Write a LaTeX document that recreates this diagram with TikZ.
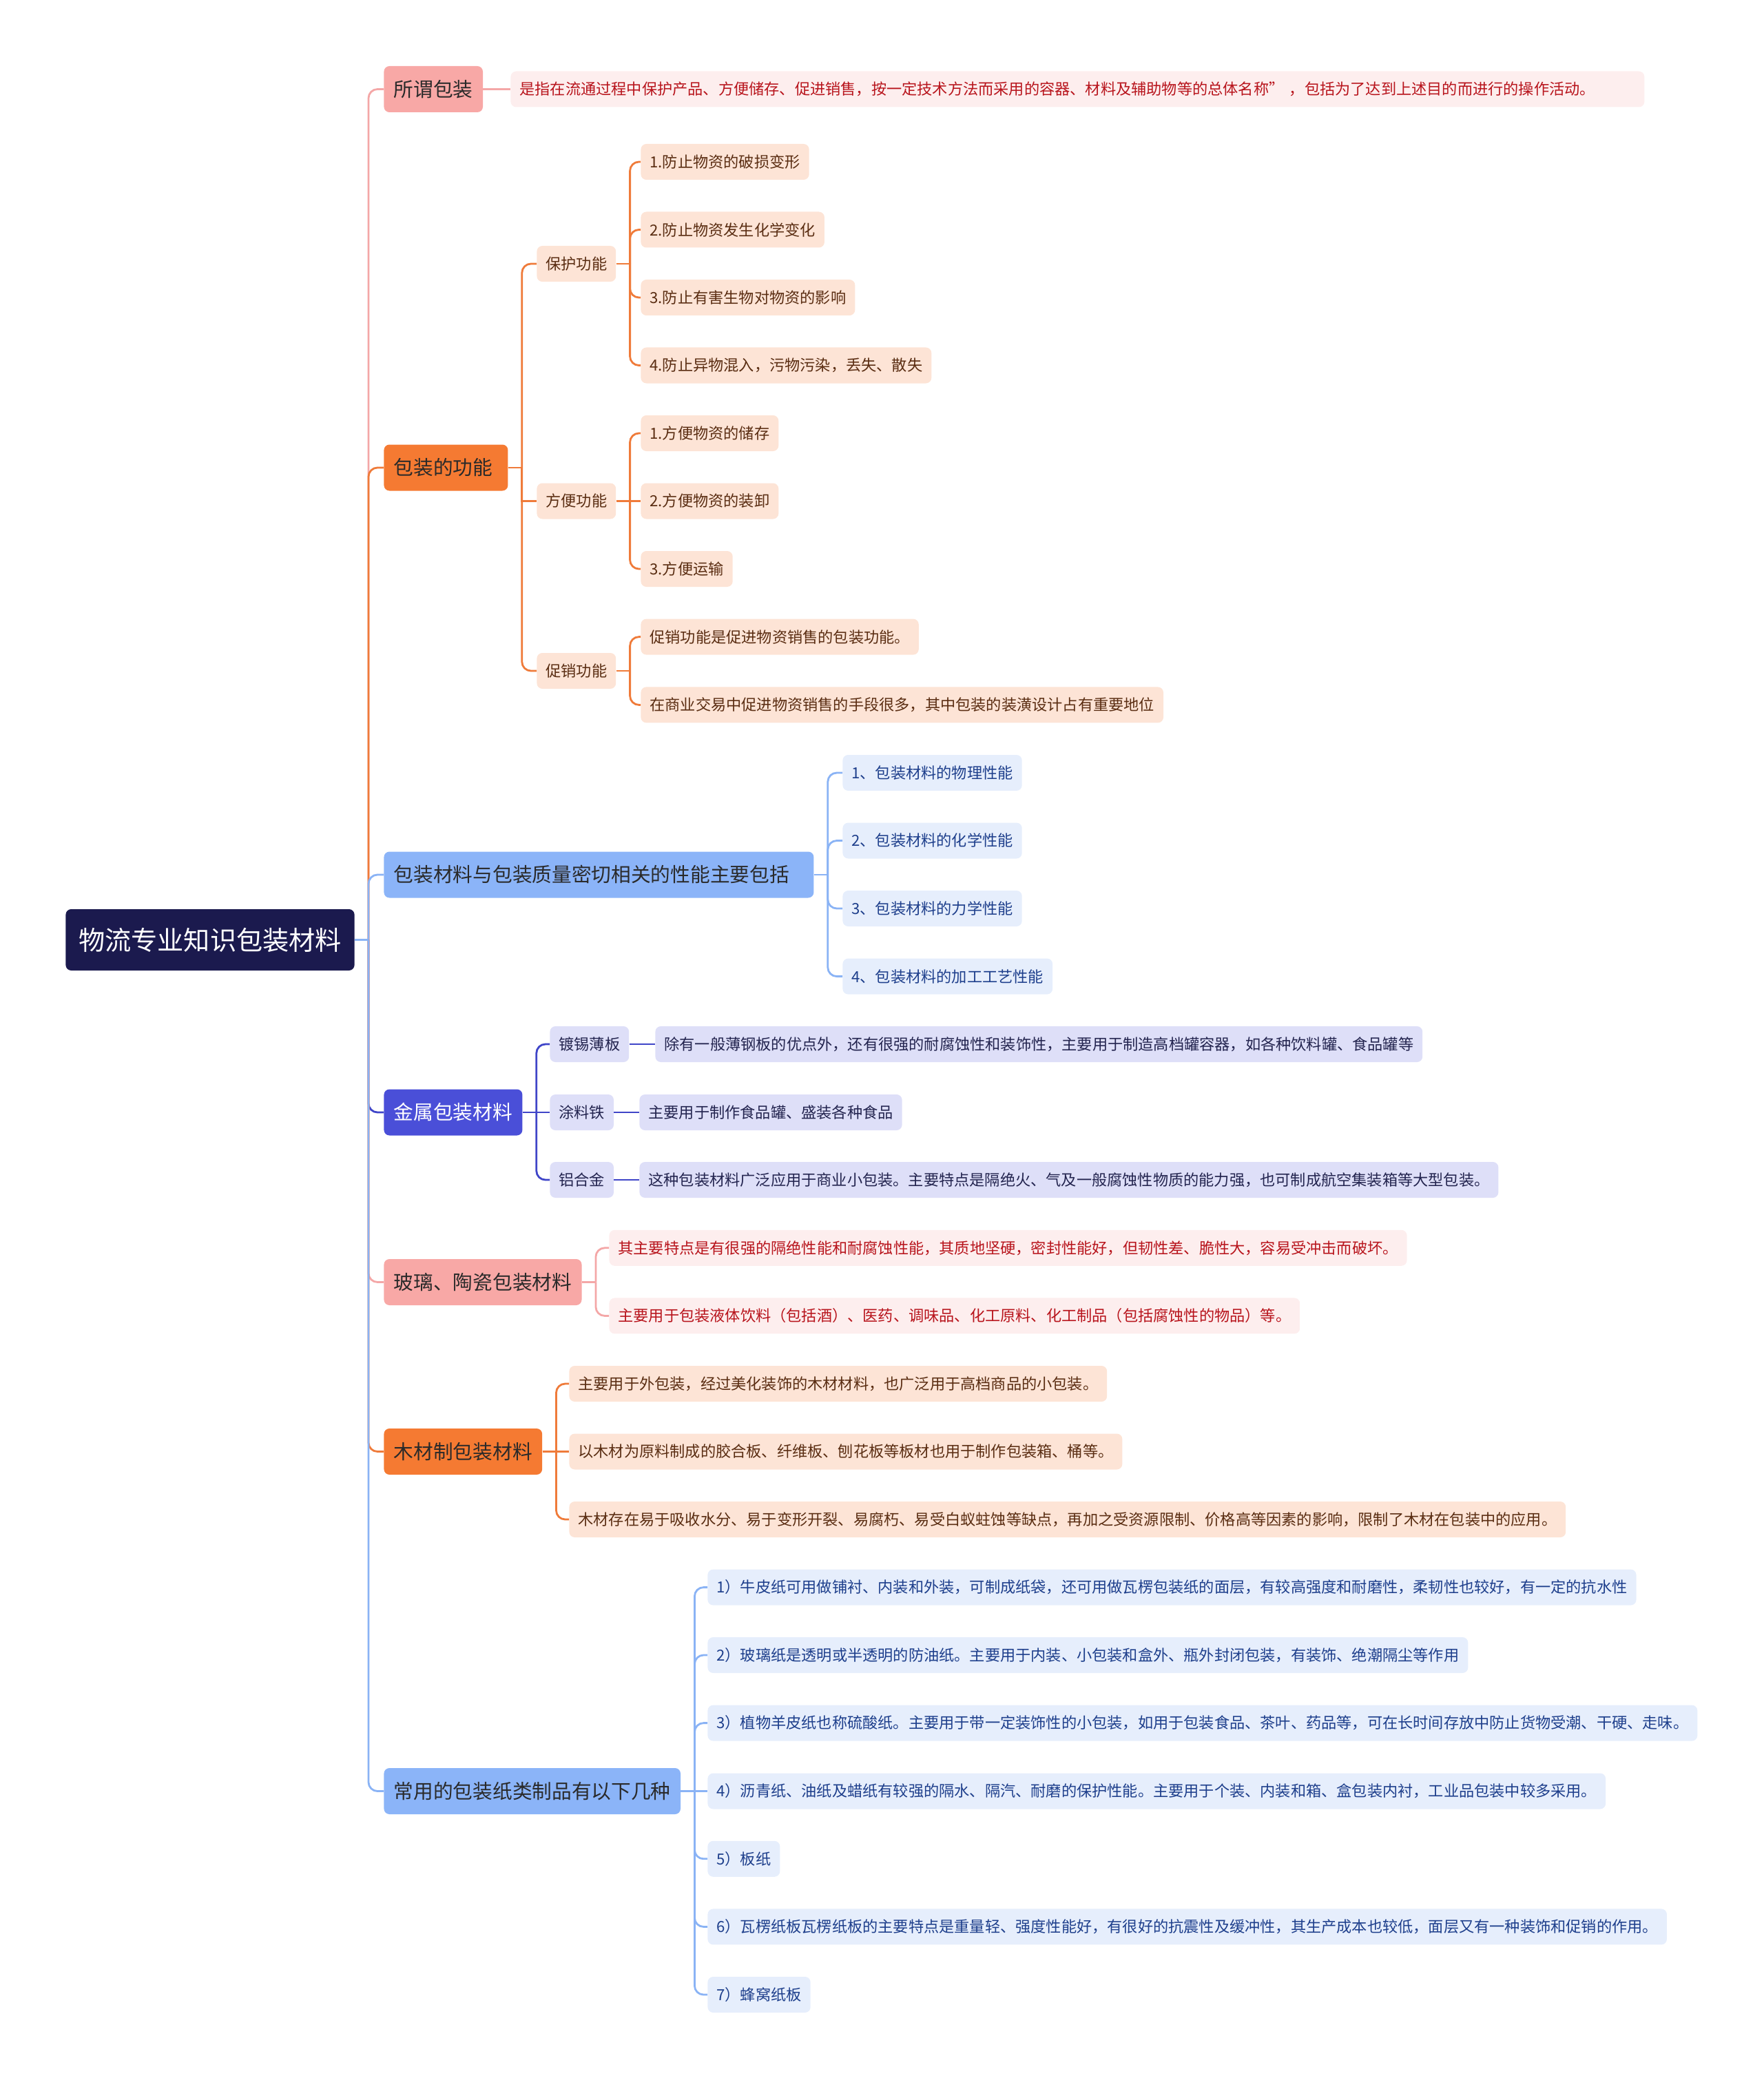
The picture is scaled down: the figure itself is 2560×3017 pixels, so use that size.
\documentclass[tikz,border=0pt]{standalone}
\usepackage{fontspec}
\setmainfont{Noto Sans CJK SC}
\usepackage{xcolor}
\usepackage{tikz}
\usetikzlibrary{positioning}
\definecolor{rootfill}{HTML}{1B1A4E}
\definecolor{toptext}{HTML}{2A2A2A}
\definecolor{pinkfill}{HTML}{F8A8A6}
\definecolor{pinkleaffill}{HTML}{FDEEEE}
\definecolor{pinktext}{HTML}{B8141C}
\definecolor{pinkline}{HTML}{F4A7A7}
\definecolor{orangefill}{HTML}{F57A32}
\definecolor{peachfill}{HTML}{FDE4D6}
\definecolor{peachtext}{HTML}{5A2D12}
\definecolor{orangeline}{HTML}{EF7B3A}
\definecolor{bluefill}{HTML}{8BB4F8}
\definecolor{blueleaffill}{HTML}{E6EEFC}
\definecolor{bluetext}{HTML}{1E3F8C}
\definecolor{blueline}{HTML}{8AB3F5}
\definecolor{indfill}{HTML}{4A4FD8}
\definecolor{indleaffill}{HTML}{DEDFF8}
\definecolor{indtext}{HTML}{23244F}
\definecolor{indline}{HTML}{3F45C8}

% elbow from parent to child
\newcommand{\fork}[3]{%
  \draw[link,#3] (#1.east) -- ++(20,0) coordinate (fk);
  \draw[link,#3,rounded corners=6.5pt] (fk) |- (#2.west);}

\begin{document}
\begin{tikzpicture}[x=0.5pt,y=-0.5pt,
  box/.style={anchor=west,rounded corners=4pt,inner ysep=0pt},
  rootbox/.style={box,fill=rootfill,text=white,minimum height=44.5pt,inner xsep=9.3pt,font=\fontsize{19.1pt}{22pt}\selectfont},
  topbox/.style={box,text=toptext,minimum height=33.5pt,inner xsep=7.2pt,font=\fontsize{14.35pt}{17pt}\selectfont},
  leafbox/.style={box,minimum height=26pt,inner xsep=6.5pt,font=\fontsize{11.1pt}{13pt}\selectfont},
  pinkleaf/.style={leafbox,fill=pinkleaffill,text=pinktext},
  peachleaf/.style={leafbox,fill=peachfill,text=peachtext},
  blueleaf/.style={leafbox,fill=blueleaffill,text=bluetext},
  indleaf/.style={leafbox,fill=indleaffill,text=indtext},
  link/.style={line width=1.4pt}]
\useasboundingbox (0,0) rectangle (2560,3017);

\node[rootbox] (root) at (95,1364.5) {物流专业知识包装材料};

% 所谓包装
\node[topbox,fill=pinkfill] (sw) at (557,129.5) {所谓包装};
\node[pinkleaf,text width=810pt,align=left] (swd) at (741,129.5) {是指在流通过程中保护产品、方便储存、促进销售，按一定技术方法而采用的容器、材料及辅助物等的总体名称” ，包括为了达到上述目的而进行的操作活动。};

% 包装的功能
\node[topbox,fill=orangefill,text width=75.6pt,align=left] (gn) at (557,679) {包装的功能};
\node[peachleaf] (bh) at (779,383) {保护功能};
\node[peachleaf] (fb) at (779,727.5) {方便功能};
\node[peachleaf] (cx) at (779,974) {促销功能};
\node[peachleaf] (bh1) at (930,235) {1.防止物资的破损变形};
\node[peachleaf] (bh2) at (930,333.5) {2.防止物资发生化学变化};
\node[peachleaf] (bh3) at (930,432) {3.防止有害生物对物资的影响};
\node[peachleaf] (bh4) at (930,530.5) {4.防止异物混入，污物污染，丢失、散失};
\node[peachleaf] (fb1) at (930,629) {1.方便物资的储存};
\node[peachleaf] (fb2) at (930,727.5) {2.方便物资的装卸};
\node[peachleaf] (fb3) at (930,826) {3.方便运输};
\node[peachleaf] (cx1) at (930,924.6) {促销功能是促进物资销售的包装功能。};
\node[peachleaf] (cx2) at (930,1023.4) {在商业交易中促进物资销售的手段很多，其中包装的装潢设计占有重要地位};

% 性能
\node[topbox,fill=bluefill,text width=297.6pt,align=left] (cl) at (557,1270) {包装材料与包装质量密切相关的性能主要包括};
\node[blueleaf] (cl1) at (1223,1122) {1、包装材料的物理性能};
\node[blueleaf] (cl2) at (1223,1220.5) {2、包装材料的化学性能};
\node[blueleaf] (cl3) at (1223,1319) {3、包装材料的力学性能};
\node[blueleaf] (cl4) at (1223,1417.6) {4、包装材料的加工工艺性能};

% 金属包装材料
\node[topbox,fill=indfill,text=white] (js) at (557,1615) {金属包装材料};
\node[indleaf] (dx) at (798,1516) {镀锡薄板};
\node[indleaf] (tl) at (798,1615) {涂料铁};
\node[indleaf] (lh) at (798,1713) {铝合金};
\node[indleaf] (dx1) at (951,1516) {除有一般薄钢板的优点外，还有很强的耐腐蚀性和装饰性，主要用于制造高档罐容器，如各种饮料罐、食品罐等};
\node[indleaf] (tl1) at (928,1615) {主要用于制作食品罐、盛装各种食品};
\node[indleaf] (lh1) at (928,1713) {这种包装材料广泛应用于商业小包装。主要特点是隔绝火、气及一般腐蚀性物质的能力强，也可制成航空集装箱等大型包装。};

% 玻璃、陶瓷
\node[topbox,fill=pinkfill] (bl) at (557,1861.5) {玻璃、陶瓷包装材料};
\node[pinkleaf] (bl1) at (884,1811.8) {其主要特点是有很强的隔绝性能和耐腐蚀性能，其质地坚硬，密封性能好，但韧性差、脆性大，容易受冲击而破坏。};
\node[pinkleaf] (bl2) at (884,1910.4) {主要用于包装液体饮料（包括酒）、医药、调味品、化工原料、化工制品（包括腐蚀性的物品）等。};

% 木材
\node[topbox,fill=orangefill] (mc) at (557,2107.5) {木材制包装材料};
\node[peachleaf] (mc1) at (826,2009) {主要用于外包装，经过美化装饰的木材材料，也广泛用于高档商品的小包装。};
\node[peachleaf] (mc2) at (826,2107.5) {以木材为原料制成的胶合板、纤维板、刨花板等板材也用于制作包装箱、桶等。};
\node[peachleaf] (mc3) at (826,2206) {木材存在易于吸收水分、易于变形开裂、易腐朽、易受白蚁蛀蚀等缺点，再加之受资源限制、价格高等因素的影响，限制了木材在包装中的应用。};

% 包装纸
\node[topbox,fill=bluefill] (zl) at (557,2600.5) {常用的包装纸类制品有以下几种};
\node[blueleaf] (zl1) at (1027,2304.6) {1）牛皮纸可用做铺衬、内装和外装，可制成纸袋，还可用做瓦楞包装纸的面层，有较高强度和耐磨性，柔韧性也较好，有一定的抗水性};
\node[blueleaf] (zl2) at (1027,2403) {2）玻璃纸是透明或半透明的防油纸。主要用于内装、小包装和盒外、瓶外封闭包装，有装饰、绝潮隔尘等作用};
\node[blueleaf] (zl3) at (1027,2501.6) {3）植物羊皮纸也称硫酸纸。主要用于带一定装饰性的小包装，如用于包装食品、茶叶、药品等，可在长时间存放中防止货物受潮、干硬、走味。};
\node[blueleaf] (zl4) at (1027,2600.5) {4）沥青纸、油纸及蜡纸有较强的隔水、隔汽、耐磨的保护性能。主要用于个装、内装和箱、盒包装内衬，工业品包装中较多采用。};
\node[blueleaf] (zl5) at (1027,2698.8) {5）板纸};
\node[blueleaf] (zl6) at (1027,2797.4) {6）瓦楞纸板瓦楞纸板的主要特点是重量轻、强度性能好，有很好的抗震性及缓冲性，其生产成本也较低，面层又有一种装饰和促销的作用。};
\node[blueleaf] (zl7) at (1027,2896) {7）蜂窝纸板};

% links from the root, later ones on top
\fork{root}{sw}{pinkline}
\fork{root}{gn}{orangeline}
\fork{root}{cl}{blueline}
\fork{root}{js}{indline}
\fork{root}{bl}{pinkline}
\fork{root}{mc}{orangeline}
\fork{root}{zl}{blueline}

\draw[link,pinkline] (sw) -- (swd);
\fork{gn}{bh}{orangeline}
\draw[link,orangeline] (gn.east) -- ++(20,0) |- (fb.west);
\fork{gn}{cx}{orangeline}
\fork{bh}{bh1}{orangeline}
\fork{bh}{bh2}{orangeline}
\fork{bh}{bh3}{orangeline}
\fork{bh}{bh4}{orangeline}
\fork{fb}{fb1}{orangeline}
\draw[link,orangeline] (fb) -- (fb2);
\fork{fb}{fb3}{orangeline}
\fork{cx}{cx1}{orangeline}
\fork{cx}{cx2}{orangeline}
\fork{cl}{cl1}{blueline}
\fork{cl}{cl2}{blueline}
\fork{cl}{cl3}{blueline}
\fork{cl}{cl4}{blueline}
\fork{js}{dx}{indline}
\draw[link,indline] (js) -- (tl);
\fork{js}{lh}{indline}
\draw[link,indline] (dx) -- (dx1);
\draw[link,indline] (tl) -- (tl1);
\draw[link,indline] (lh) -- (lh1);
\fork{bl}{bl1}{pinkline}
\fork{bl}{bl2}{pinkline}
\fork{mc}{mc1}{orangeline}
\draw[link,orangeline] (mc) -- (mc2);
\fork{mc}{mc3}{orangeline}
\fork{zl}{zl1}{blueline}
\fork{zl}{zl2}{blueline}
\fork{zl}{zl3}{blueline}
\draw[link,blueline] (zl) -- (zl4);
\fork{zl}{zl5}{blueline}
\fork{zl}{zl6}{blueline}
\fork{zl}{zl7}{blueline}
\end{tikzpicture}
\end{document}
